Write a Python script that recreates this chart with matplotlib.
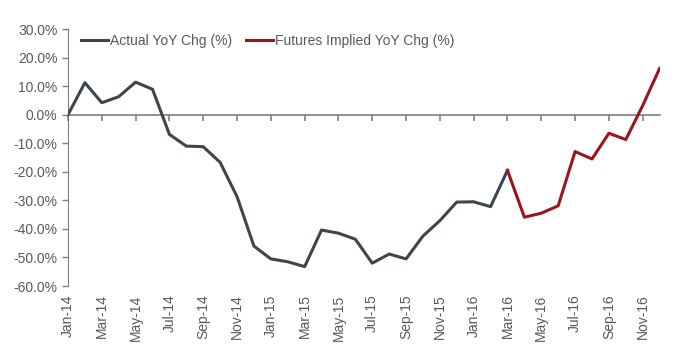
import matplotlib.pyplot as plt
import pandas as pd

plt.rcParams['font.family'] = ['Liberation Sans', 'DejaVu Sans']

# monthly YoY change (%), Jan-14 .. Mar-16 actual, Mar-16 .. Dec-16 futures implied
months = pd.date_range('2014-01-01', '2016-12-01', freq='MS')
actual = [0.0, 11.2, 4.2, 6.3, 11.4, 8.9, -6.9, -11.0, -11.2, -16.7, -28.7, -46.0,
          -50.5, -51.5, -53.2, -40.4, -41.5, -43.6, -52.0, -48.8, -50.5, -42.5, -37.1, -30.6,
          -30.5, -32.2, -19.5]
futures = [-19.5, -35.9, -34.5, -31.9, -12.9, -15.5, -6.5, -8.7, 3.2, 16.2]

labels = [m.strftime('%b-%y') for m in months]
x_act = list(range(len(actual)))
x_fut = list(range(len(actual) - 1, len(actual) - 1 + len(futures)))

txt = '#595959'
axc = '#7f7f7f'

fig = plt.figure(figsize=(6.8, 3.54), dpi=100)
ax = fig.add_axes([0.1, 0.192, 0.87, 0.726])

ax.plot(x_act, actual, color='#3d464e', lw=2.2, label='Actual YoY Chg (%)', zorder=3)
ax.plot(x_fut, futures, color='#99161d', lw=2.2, label='Futures Implied YoY Chg (%)', zorder=3)

ax.set_xlim(0, len(months) - 1)
ax.set_ylim(-60, 30)
ax.set_yticks(range(-60, 31, 10))
ax.set_yticklabels([f'{v:.1f}%' for v in range(-60, 31, 10)])

ax.set_xticks(range(0, len(months), 2))
ax.set_xticklabels(labels[::2], rotation=90)

for s in ['top', 'right', 'bottom']:
    ax.spines[s].set_visible(False)
ax.spines['left'].set_color(axc)
ax.tick_params(axis='y', colors=axc, labelcolor=txt, labelsize=10, length=4, width=1, direction='out')
ax.tick_params(axis='x', length=0, labelcolor=txt, labelsize=10, pad=6)

# zero line with its own ticks pointing down
zero = ax.secondary_xaxis(2 / 3)
zero.set_alignment('bottom')
zero.set_xticks(range(0, len(months), 2))
zero.set_xticklabels([])
zero.spines['bottom'].set_color(axc)
zero.spines['bottom'].set_linewidth(1.2)
zero.tick_params(axis='x', color=axc, length=4, width=1.2, direction='out')

leg = ax.legend(loc='upper left', bbox_to_anchor=(0.0, 1.03), ncol=2, frameon=False,
                handlelength=2.0, handletextpad=0.1, columnspacing=1.0, fontsize=10)
for t in leg.get_texts():
    t.set_color(txt)

fig.savefig('out.png', dpi=100)
